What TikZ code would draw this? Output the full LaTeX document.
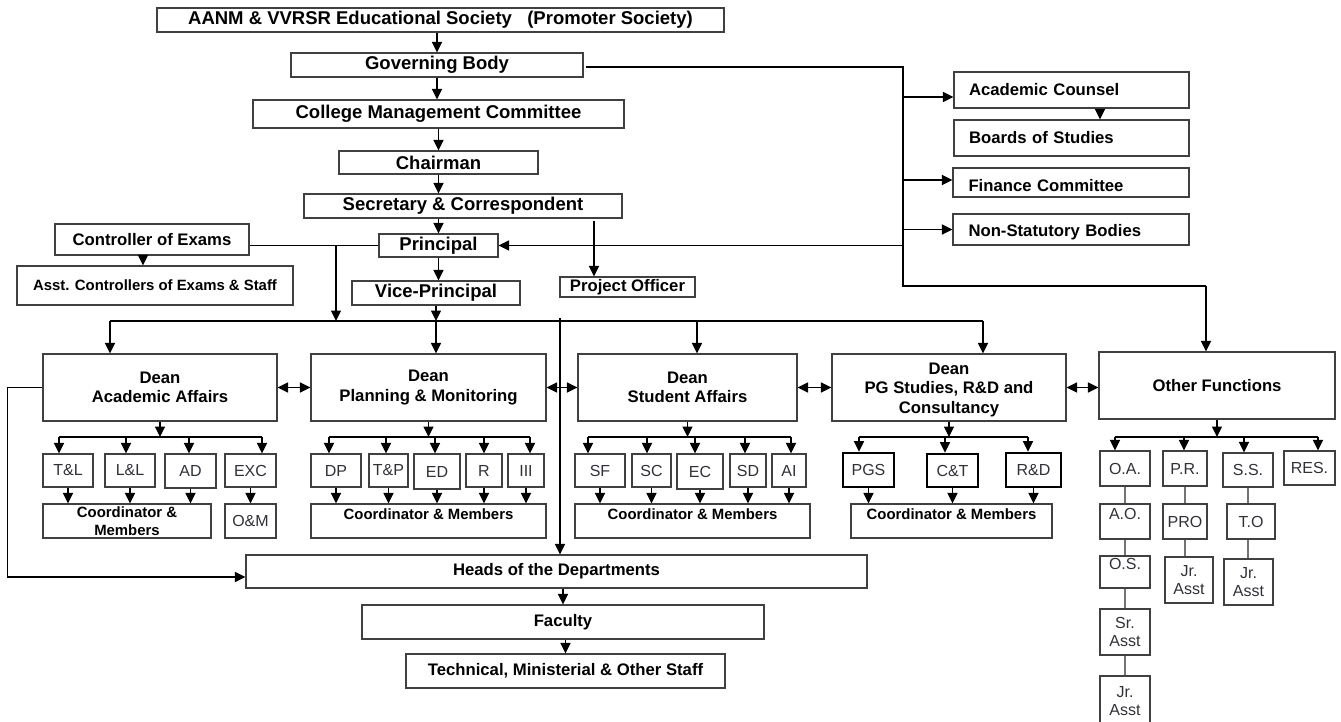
\documentclass[tikz,border=0pt]{standalone}
\usepackage{fontspec}
\setmainfont{Liberation Sans}
\usetikzlibrary{arrows.meta}
\definecolor{bd}{HTML}{404040}
\definecolor{st}{HTML}{303038}
\tikzset{
 box/.style={draw=bd, line width=1.2pt, inner sep=0pt, align=center, text=black},
 fA/.style={font=\fontsize{18.5}{21}\selectfont\bfseries},
 fB/.style={font=\fontsize{16.7}{19.3}\selectfont\bfseries},
 fC/.style={font=\fontsize{14.9}{18}\selectfont\bfseries},
 fS/.style={font=\fontsize{16}{18.5}\selectfont, text=st},
 thickb/.style={draw=black, line width=2.6pt},
 lefttext/.style={text width=#1, align=left, inner xsep=15pt},
 arr/.style={-{Triangle[length=10.5pt,width=10pt]}, line width=1.6pt},
 dbl/.style={{Triangle[length=10.5pt,width=10pt]}-{Triangle[length=10.5pt,width=10pt]}, line width=1.6pt},
 bus/.style={line width=2.6pt},
 tline/.style={line width=1.3pt},
 chn/.style={draw=black!55, line width=1.3pt},
}
\newcommand{\bx}[7][]{\node[box,minimum width={#5pt-#3pt},minimum height={#6pt-#4pt},#1] (#2) at ({(#3+#5)/2},{(#4+#6)/2}) {#7};}
\newcommand{\dropto}[3]{\draw[arr] ([xshift=#3pt]#2.north |- #1) -- ([xshift=#3pt]#2.north);}
\newcommand{\downto}[2]{\draw[arr] (#1.south) -- (#1.south |- #2.north);}
\begin{document}
\begin{tikzpicture}[x=1pt,y=-1pt]
\useasboundingbox (0,0) rectangle (1341,722);
% top chain
\bx[fA]{aanm}{157}{8}{724}{32}{AANM \& VVRSR Educational Society\hspace{0.83em}(Promoter Society)}
\bx[fA]{gov}{291}{53}{583}{77}{Governing Body}
\bx[fA]{cmc}{253}{100}{624}{128}{College Management Committee}
\bx[fA]{chair}{339}{151}{538}{174}{Chairman}
\bx[fA]{sec}{304}{194}{622}{218}{Secretary \& Correspondent}
\bx[fA]{prin}{379}{234}{498}{257}{Principal}
\bx[fA]{vp}{352}{281}{520}{305}{Vice-Principal}
\bx[fB]{ctrl}{55}{224}{249}{255}{Controller of Exams}
\bx[fC]{asst}{17}{266}{293}{305}{Asst. Controllers of Exams \& Staff}
\bx[fB]{po}{560}{277}{695}{297}{Project Officer}
% right bodies
\bx[fB,lefttext=205pt]{acad}{954}{72}{1189}{108}{Academic Counsel}
\bx[fB,lefttext=205pt]{bos}{954}{120}{1189}{156}{Boards of Studies}
\bx[fB,lefttext=205pt,text height=18pt]{fin}{953}{168}{1189}{197}{Finance Committee}
\bx[fB,lefttext=205pt,text height=17pt]{nsb}{953}{214}{1189}{245}{Non-Statutory Bodies}
% deans
\bx[fB]{aa}{43}{354}{277}{421}{Dean\\Academic Affairs}
\bx[fB]{pm}{311}{354}{546}{421}{Dean\\Planning \& Monitoring}
\bx[fB]{sa}{578}{354}{797}{421}{Dean\\Student Affairs}
\bx[fB]{pg}{832}{354}{1066}{421}{\rule{0pt}{16pt}Dean\\PG Studies, R\&D and\\Consultancy}
\bx[fB]{of}{1099}{352}{1335}{419}{Other Functions}
% AA subs
\bx[fS]{tl}{43}{454}{93}{487}{T\&L}
\bx[fS]{ll}{105}{454}{155}{487}{L\&L}
\bx[fS]{ad}{165}{454}{216}{488}{AD}
\bx[fS]{exc}{225}{454}{276}{487}{EXC}
\bx[fC]{cmaa}{43}{504}{211}{538}{Coordinator \&\\Members}
\bx[fS]{om}{225}{504}{276}{538}{O\&M}
% PM subs
\bx[fS]{dp}{311}{454}{361}{487}{DP}
\bx[fS]{tp}{369}{454}{408}{487}{T\&P}
\bx[fS]{ed}{414}{454}{460}{489}{ED}
\bx[fS]{rr}{466}{454}{502}{487}{R}
\bx[fS]{iii}{508}{454}{544}{487}{III}
\bx[fC,text depth=14pt]{cmpm}{311}{504}{546}{538}{Coordinator \& Members}
% SA subs
\bx[fS]{sf}{575}{454}{625}{487}{SF}
\bx[fS]{sc}{632}{454}{671}{487}{SC}
\bx[fS]{ec}{677}{454}{723}{489}{EC}
\bx[fS]{sd}{730}{454}{766}{487}{SD}
\bx[fS]{ai}{772}{454}{806}{487}{AI}
\bx[fC,text depth=14pt]{cmsa}{575}{504}{810}{538}{Coordinator \& Members}
% PG subs
\bx[fS,thickb]{pgs}{843}{453}{894}{487}{PGS}
\bx[fS,thickb]{ct}{927}{454}{978}{487}{C\&T}
\bx[fS,thickb]{rd}{1006}{453}{1061}{487}{R\&D}
\bx[fC,text depth=14pt]{cmpg}{851}{504}{1052}{538}{Coordinator \& Members}
% other functions subs
\bx[fS]{oa}{1100}{451}{1150}{486}{O.A.}
\bx[fS]{pr}{1163}{451}{1207}{486}{P.R.}
\bx[fS]{ss}{1223}{453}{1273}{487}{S.S.}
\bx[fS]{res}{1284}{451}{1335}{485}{RES.}
\bx[fS,text depth=15pt]{ao}{1100}{504}{1150}{539}{A.O.}
\bx[fS,text depth=17pt]{os}{1100}{556}{1150}{588}{O.S.}
\bx[fS]{sr}{1100}{609}{1150}{655}{Sr.\\Asst}
\bx[fS]{jra}{1100}{676}{1150}{726}{Jr.\\Asst}
\bx[fS]{pro}{1163}{504}{1207}{539}{PRO}
\bx[fS]{jrb}{1165}{557}{1213}{603}{Jr.\\Asst}
\bx[fS]{tob}{1227}{504}{1275}{539}{T.O}
\bx[fS]{jrc}{1224}{559}{1273}{605}{Jr.\\Asst}
% bottom
\bx[fB]{heads}{246}{555}{867}{588}{Heads of the Departments}
\bx[fB]{fac}{362}{605}{764}{639}{Faculty}
\bx[fB]{tech}{406}{654}{725}{688}{Technical, Ministerial \& Other Staff}

% coordinates
\coordinate (tT) at (903,67);
\coordinate (tB) at (903,286);
\coordinate (tR) at (1206,286);
\coordinate (mbus) at (436,321);
\coordinate (busL) at (110,321);
\coordinate (busR) at (983,321);
\coordinate (sadrop) at (697,321);
\coordinate (cdrop) at (336,245.5);
\coordinate (hd) at (560,318);
\coordinate (pod) at (594,221);
\coordinate (aab) at (160,437);
\coordinate (pmb) at (430,437);
\coordinate (sab) at (690,437);
\coordinate (pgb) at (945,437);
\coordinate (ofb) at (1217,437);

% top chain arrows
\draw[arr] (aanm.south -| gov.north) -- (gov.north);
\draw[arr] (gov.south) -- (gov.south |- cmc.north);
\draw[arr] (cmc.south -| chair.north) -- (chair.north);
\draw[arr] (chair.south) -- (chair.south |- sec.north);
\draw[arr] (sec.south -| prin.north) -- (prin.north);
\draw[arr] (prin.south) -- (prin.south |- vp.north);
\draw[arr] (pod) -- (pod |- po.north);
\draw[tline] (ctrl.east |- prin.west) -- (prin.west);
\draw[arr] ([xshift=-9pt]ctrl.south) -- ([xshift=-9pt]ctrl.south |- asst.north);
\draw[arr] (cdrop) -- (cdrop |- mbus);

% right trunk
\draw[tline] (gov.east) ++(2,2) -- (tT) -- (tB) -- (tR);
\draw[arr] (tR) -- (tR |- of.north);
\draw[arr] ([yshift=-7pt]tT |- acad.west) -- ([yshift=-7pt]acad.west);
\draw[arr] ([xshift=28.5pt]acad.south) -- ([xshift=28.5pt]acad.south |- bos.north);
\draw[arr] ([yshift=2.5pt]tT |- fin.west) -- ([yshift=2.5pt]fin.west);
\draw[arr] (tT |- nsb.west) -- (nsb.west);
\draw[arr] (tT |- prin.east) -- (prin.east);

% main bus
\draw[arr] (vp.south) -- (vp.south |- mbus);
\draw[bus] (busL) -- (busR);
\draw[arr] (busL) -- (busL |- aa.north);
\draw[arr] (mbus) -- (mbus |- pm.north);
\draw[arr] (sadrop) -- (sadrop |- sa.north);
\draw[arr] (busR) -- (busR |- pg.north);
\draw[arr] (hd) -- (hd |- heads.north);

% dean links
\draw[dbl] (aa.east) -- (pm.west);
\draw[dbl] (pm.east) -- (sa.west);
\draw[dbl] (sa.east) -- (pg.west);
\draw[dbl] (pg.east) -- (pg.east -| of.west);
\draw[arr] (aa.west) -- ++(-35,0) |- ([yshift=-5.5pt]heads.west);

% AA group
\draw[arr] (aa.south) -- (aa.south |- aab);
\draw[bus] ([xshift=-9pt]tl.north |- aab) -- ([xshift=11.5pt]exc.north |- aab);
\dropto{aab}{tl}{-9}
\dropto{aab}{ll}{-4}
\dropto{aab}{ad}{-1.5}
\dropto{aab}{exc}{11.5}
\downto{tl}{cmaa}
\downto{ll}{cmaa}
\downto{ad}{cmaa}
\downto{exc}{om}

% PM group
\draw[arr] (pm.south) -- (pm.south |- pmb);
\draw[bus] ([xshift=-7pt]dp.north |- pmb) -- ([xshift=4pt]iii.north |- pmb);
\dropto{pmb}{dp}{-7}
\dropto{pmb}{tp}{-2.5}
\dropto{pmb}{ed}{-2}
\dropto{pmb}{rr}{0}
\dropto{pmb}{iii}{4}
\downto{dp}{cmpm}
\downto{tp}{cmpm}
\downto{ed}{cmpm}
\downto{rr}{cmpm}
\downto{iii}{cmpm}

% SA group
\draw[arr] (sa.south) -- (sa.south |- sab);
\draw[bus] ([xshift=-12pt]sf.north |- sab) -- ([xshift=2pt]ai.north |- sab);
\dropto{sab}{sf}{-12}
\dropto{sab}{sc}{-4.5}
\dropto{sab}{ec}{-5}
\dropto{sab}{sd}{-3}
\dropto{sab}{ai}{2}
\downto{sf}{cmsa}
\downto{sc}{cmsa}
\downto{ec}{cmsa}
\downto{sd}{cmsa}
\downto{ai}{cmsa}

% PG group
\draw[arr] (pg.south) -- (pg.south |- pgb);
\draw[bus] ([xshift=-9.5pt]pgs.north |- pgb) -- ([xshift=-5.5pt]rd.north |- pgb);
\dropto{pgb}{pgs}{-9.5}
\dropto{pgb}{ct}{-7.5}
\dropto{pgb}{rd}{-5.5}
\downto{pgs}{cmpg}
\downto{ct}{cmpg}
\downto{rd}{cmpg}

% Other functions group
\draw[arr] (of.south) -- (of.south |- ofb);
\draw[bus] ([xshift=-10pt]oa.north |- ofb) -- ([xshift=8.5pt]res.north |- ofb);
\dropto{ofb}{oa}{-10}
\dropto{ofb}{pr}{-1}
\dropto{ofb}{ss}{-4}
\dropto{ofb}{res}{8.5}
\draw[chn] (oa.south) -- (ao.north);
\draw[chn] (ao.south) -- (os.north);
\draw[chn] (os.south) -- (sr.north);
\draw[chn] (sr.south) -- (jra.north);
\draw[chn] (pr.south) -- (pr.south |- pro.north);
\draw[chn] (pro.south) -- (pro.south |- jrb.north);
\draw[chn] (ss.south) -- (ss.south |- tob.north);
\draw[chn] (ss.south |- tob.south) -- (ss.south |- jrc.north);

% bottom chain
\draw[arr] (heads.south -| fac.north) -- (fac.north);
\draw[arr] (fac.south -| tech.north) -- (tech.north);
\end{tikzpicture}
\end{document}
